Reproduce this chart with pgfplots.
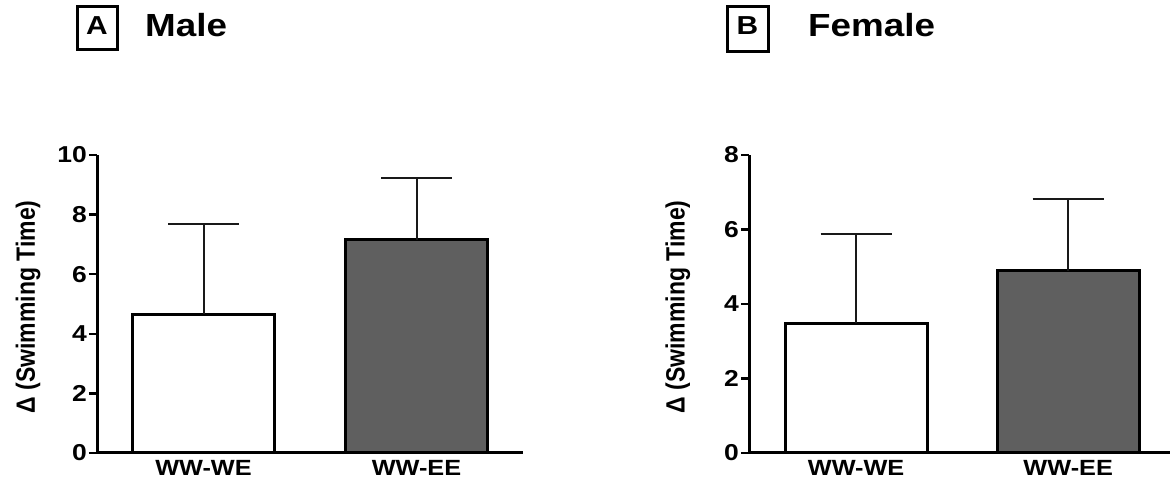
\documentclass[border=0pt]{standalone}
\usepackage{fontspec}
\setmainfont{Liberation Sans}[FakeStretch=1.15]
\newfontfamily\plainfont{Liberation Sans}
\usepackage{graphicx}
\usepackage{pgfplots}
\pgfplotsset{compat=1.18}
\definecolor{darkbar}{RGB}{95,95,95}
\pgfplotsset{
  panel/.style={
    scale only axis,
    height=298pt,
    axis x line=bottom, axis y line=left,
    axis line style={-, line width=3pt, black},
    tick align=outside,
    major tick length=8pt,
    ytick style={line width=2.5pt, black},
    xtick style={draw=none},
    xtick={0,1},
    xticklabels={WW-WE,WW-EE},
    ymin=0,
    /pgf/number format/assume math mode=true,
    yticklabel style={font=\fontsize{23}{26}\selectfont\bfseries, inner sep=2pt},
    xticklabel style={font=\fontsize{22}{25}\selectfont\bfseries, inner sep=0pt, yshift=1pt},
    ylabel={\scalebox{1}[1.15]{\plainfont\bfseries Δ (Swimming Time)}},
    ylabel style={font=\fontsize{23}{26}\selectfont, anchor=center},
    clip=false,
    ybar, bar width=142pt, bar shift=0pt,
  },
  errb/.style={draw=black, line width=3pt,
      error bars/y dir=plus, error bars/y explicit,
      error bars/error bar style={line width=2pt, black!90},
      error bars/error mark options={rotate=90, mark size=35.5pt, line width=2pt, black!90}},
}
\begin{document}
\begin{tikzpicture}[x=1pt,y=1pt]
\useasboundingbox (0,0) rectangle (1170,481);
% Panel A header
\draw[line width=3pt] (77,431) rectangle (117,474);
\node[anchor=base, inner sep=0, font=\fontsize{26}{30}\selectfont\bfseries] at (97,446) {A};
\node[anchor=base west, inner sep=0, font=\fontsize{32}{36}\selectfont\bfseries] at (145,444) {Male};
% Panel B header
\draw[line width=3pt] (727,429) rectangle (768,474);
\node[anchor=base, inner sep=0, font=\fontsize{26}{30}\selectfont\bfseries] at (747.5,446) {B};
\node[anchor=base west, inner sep=0, font=\fontsize{32}{36}\selectfont\bfseries] at (808,444) {Female};

\begin{axis}[panel, at={(97pt,28pt)}, anchor=south west,
  width=426pt, xmin=-0.5, xmax=1.5, ymax=10, ytick={0,2,4,6,8,10},
  ylabel style={at={(axis description cs:-0.162,0.49)}}]
\addplot[errb, fill=white] coordinates {(0,4.66) +- (0,3.02)};
\addplot[errb, fill=darkbar] coordinates {(1,7.15) +- (0,2.08)};
\end{axis}

\begin{axis}[panel, at={(749pt,28pt)}, anchor=south west,
  width=421pt, xmin=-0.505, xmax=1.48, ymax=8, ytick={0,2,4,6,8},
  ylabel style={at={(axis description cs:-0.169,0.49)}}]
\addplot[errb, fill=white] coordinates {(0,3.48) +- (0,2.39)};
\addplot[errb, fill=darkbar] coordinates {(1,4.89) +- (0,1.93)};
\end{axis}
\end{tikzpicture}
\end{document}
